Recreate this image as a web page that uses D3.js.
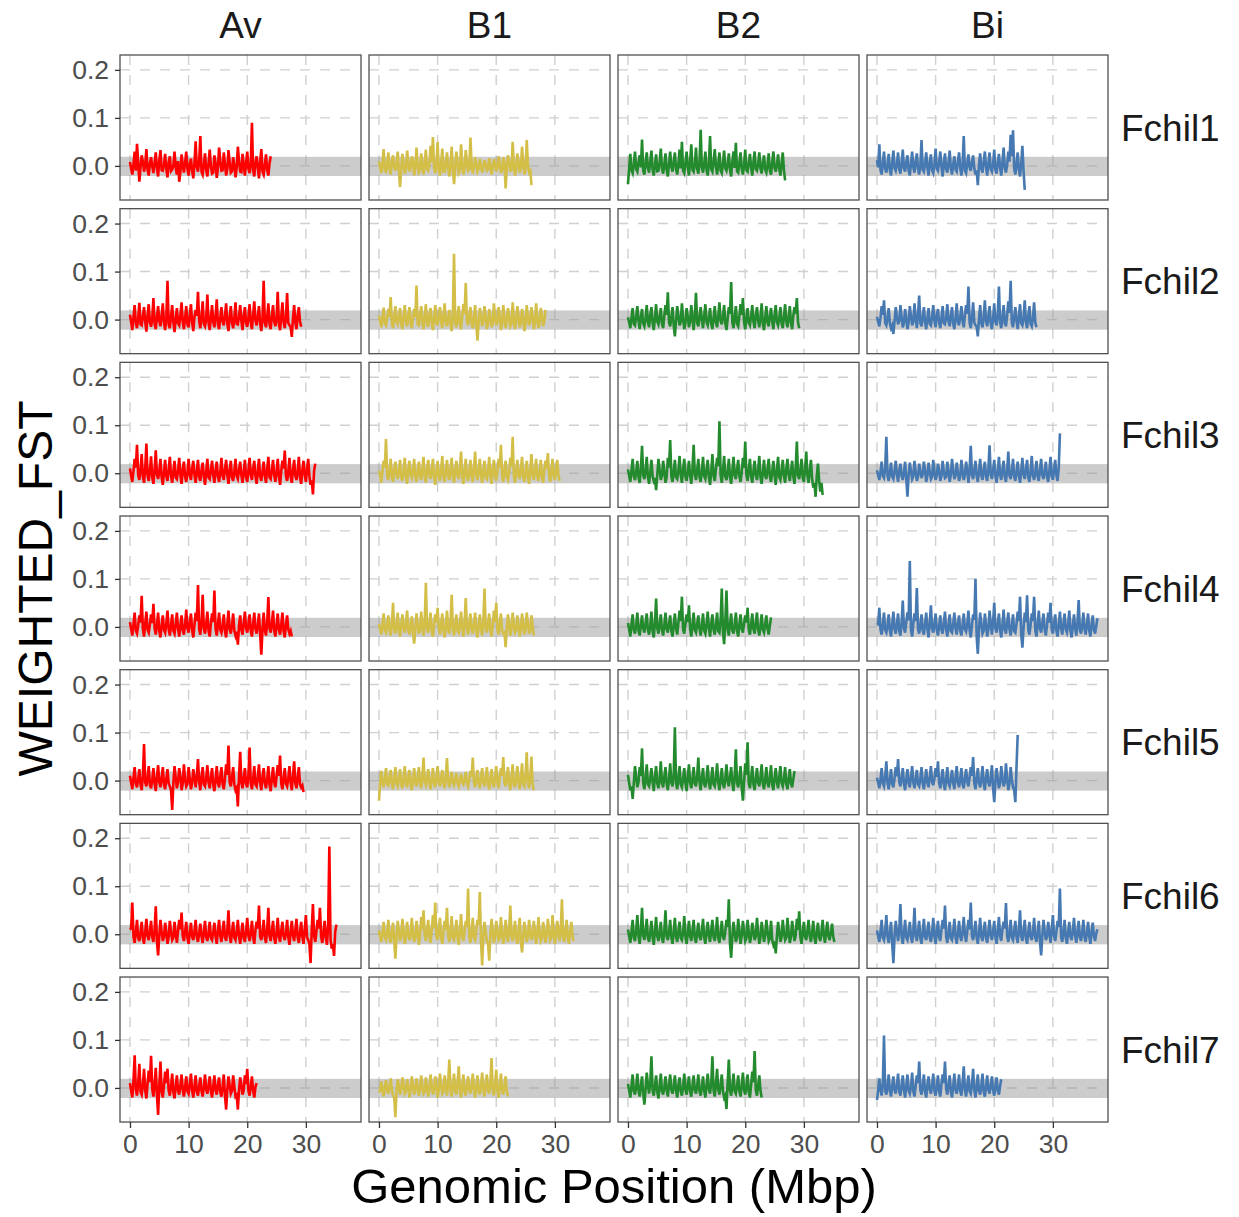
<!DOCTYPE html>
<html>
<head>
<meta charset="utf-8">
<script src="https://cdn.jsdelivr.net/npm/d3@7"></script>
<style>
  body { margin: 0; background: #fff; }
  text { font-family: "Liberation Sans", Arial, sans-serif; }
</style>
</head>
<body>
<div id="chart"></div>
<script>
//
// Data
//
var populations = ["Av", "B1", "B2", "Bi"];
var chromosomes = ["Fchil1", "Fchil2", "Fchil3", "Fchil4", "Fchil5", "Fchil6", "Fchil7"];
var popColors = ["#FF0000", "#D3BE47", "#238B2D", "#4679B2"];
var xTicks = [0, 10, 20, 30];
var yTicks = [0, 0.1, 0.2];
var xTickLabels = ["0", "10", "20", "30"];
var yTickLabels = ["0.0", "0.1", "0.2"];
var windowStep = 0.2;   // Mbp between windows
var bandLow = -0.021, bandHigh = 0.019;

// weighted FST per window (x 1000)
var Av_Fchil1 = [8,-6,-18,4,30,-10,46,7,-33,-3,22,9,-12,2,35,-8,-20,5,18,-1,-15,6,28,-5,-22,11,33,-9,-10,3,25,-7,-24,8,20,-11,-8,1,30,-4,-18,10,-33,-13,24,2,-14,6,30,-6,-20,4,15,-10,-26,7,51,-3,-12,9,62,-12,-18,2,26,-8,-22,5,34,-1,-16,-14,22,6,-25,-5,38,11,-10,-9,28,3,-20,-7,33,8,-14,-11,18,1,-24,-4,40,10,-12,-13,25,2,-20,6,30,-6,-15,4,90,-10,-22,7,20,-3,-26,9,35,-12,-18,2,24,-8,-20,5,20];
var B1_Fchil1 = [10,-4,-15,6,35,-9,-12,3,28,-7,-18,8,22,-2,-10,5,30,-11,-44,-6,25,2,-16,-8,32,7,-12,-3,20,9,-20,-5,38,4,-14,-10,26,1,-18,6,34,-7,-10,3,42,8,60,-4,-15,2,50,-9,-20,5,36,-12,-12,7,28,-6,-22,3,40,-8,-38,-2,30,6,-15,-10,45,4,-18,-5,33,8,-10,-7,59,2,-16,-4,18,3,-12,-6,15,1,-14,-3,12,4,-10,-8,16,2,-18,-5,14,5,-12,-2,20,3,-15,-7,18,6,-47,-4,22,8,-10,-9,50,4,-20,-6,26,7,-14,-3,40,5,-18,-8,54,2,-12,-6,-40];
var B2_Fchil1 = [-38,-5,25,-9,-15,4,30,-7,-12,8,22,-3,55,-10,-18,6,28,-4,-14,9,32,-8,-20,2,24,-11,-10,7,36,-6,-16,3,26,-9,-22,5,30,-2,-12,8,28,-7,-18,4,34,-5,50,-10,-15,6,30,-3,-20,9,45,-8,-12,2,38,-6,-16,7,75,-4,-14,3,30,-9,-20,5,62,-7,-12,8,35,-2,-18,4,28,-10,-15,6,32,-5,-10,3,26,-8,-22,9,30,-4,48,-11,-14,7,28,-6,-18,2,34,-9,-12,5,25,-3,-20,8,30,-7,-10,4,28,-5,-16,6,22,-8,-14,3,26,-10,-18,7,30,-4,-12,2,24,-6,-20,5,28,-9,-30];
var Bi_Fchil1 = [12,-3,45,-8,-18,5,30,-6,-14,2,25,-9,-20,7,32,-4,-10,3,28,-7,-16,6,34,-5,-12,8,22,-10,-20,4,30,-3,-14,9,26,-6,-18,2,54,-8,-12,5,28,-4,-20,7,24,-9,-15,3,36,-6,-10,8,30,-2,-22,4,26,-7,-14,6,32,-5,-18,3,20,-8,-12,9,28,-4,-20,2,62,-10,-15,6,24,-3,-10,7,22,-5,-18,-9,-40,4,26,-6,-14,8,30,-2,-20,5,28,-7,-12,3,34,-9,-16,6,25,-4,-20,8,38,-5,-14,2,30,9,65,20,74,-6,-18,4,28,-8,-22,5,42,-10,-50];

var Av_Fchil2 = [10,-5,-22,6,30,-8,-18,3,35,-10,-12,7,26,-4,-25,9,32,-6,-15,2,45,-9,-20,5,28,-3,-14,8,34,-7,-22,4,81,-11,-18,6,30,-5,-26,2,24,-8,-12,9,36,-4,-20,3,28,-10,-16,7,32,-6,-24,5,20,8,58,-3,-18,6,38,-9,-14,2,52,-7,-22,4,30,-5,-16,8,42,-10,-20,3,26,-4,-12,7,34,-8,-24,5,28,-6,-18,2,36,-9,-10,6,30,-3,-22,8,26,-7,-15,4,32,-5,-20,9,38,-2,-12,6,28,-8,-24,3,81,-6,-16,5,34,-10,-20,7,30,-4,-14,2,58,-9,-22,6,36,-5,-18,4,55,-7,-12,-15,-36,3,30,-6,-20,8,26,-4,-15];
var B1_Fchil2 = [8,-4,-16,5,25,-8,-12,3,22,6,47,-7,-18,2,28,-5,-10,7,24,-9,-20,4,30,-3,-14,8,26,-6,-18,2,22,5,71,-10,-12,6,28,-4,-20,3,32,-7,-15,9,24,-5,-22,2,30,-8,-10,6,26,-3,-18,7,34,-6,-14,4,20,-9,-24,10,137,-5,-16,3,28,-7,-20,6,32,12,76,-4,-12,8,26,-6,-18,2,30,-10,-44,-5,24,7,-14,-3,28,5,-20,-8,22,4,-16,-6,34,2,-12,-4,26,8,-22,-7,30,3,-18,-5,24,6,-14,-9,36,2,-20,-3,28,7,-16,-6,22,4,-24,-8,30,5,-12,-2,26,6,-20,-7,34,3,-18,-5,24,8,-14,-4,20];
var B2_Fchil2 = [5,-6,-18,4,24,-9,-12,7,28,-3,-20,5,22,-8,-14,2,30,-5,-16,9,26,-7,-22,3,32,-4,-10,6,24,-9,-18,8,30,10,57,-6,-14,4,26,-12,-35,-3,28,7,-12,-5,34,2,-20,-8,24,6,-16,-4,30,3,-22,9,56,-7,-14,5,26,-2,-18,8,32,-6,-12,4,24,-9,-20,3,28,-5,-16,7,36,-3,-10,6,30,-8,-22,2,26,12,78,-6,-18,4,28,-9,-14,7,32,10,45,-5,-20,3,24,-7,-12,6,30,-4,-18,8,26,-2,-16,5,34,-9,-22,3,28,-6,-14,7,24,-4,-20,9,30,-5,-12,2,26,-8,-18,6,32,-3,-16,4,28,-7,-20,8,26,12,45,-5,-18];
var Bi_Fchil2 = [6,-5,-14,4,28,10,40,-7,-12,3,24,-8,-18,-12,-30,-4,26,6,-10,-3,30,5,-16,-8,22,2,-20,-6,28,7,-12,-4,34,3,-18,9,50,-7,-14,4,26,-5,-20,2,24,-9,-12,6,30,-3,-16,8,22,-6,-18,3,28,-8,-10,5,32,-4,-14,7,26,-9,-20,2,34,-5,-12,6,28,-3,-16,8,30,12,69,-7,-18,4,36,-6,-12,-15,-35,3,30,-8,-16,5,40,-4,-14,7,28,-9,-20,2,34,-5,-12,10,69,-6,-18,4,30,-8,-14,9,38,14,81,-7,-16,5,26,-3,-20,6,32,-8,-12,4,40,-5,-18,7,28,-9,-14,3,36,-6,-16];

var Av_Fchil3 = [10,-6,-18,5,30,12,59,-4,-14,8,40,-7,-20,10,62,-5,-16,6,35,-9,-22,7,48,-3,-12,4,30,-8,-24,2,28,-6,-16,7,34,-5,-20,3,26,-9,-12,6,32,-4,-22,8,24,-7,-18,2,30,-5,-14,9,26,-3,-20,4,28,-8,-16,6,22,-6,-24,3,30,-9,-12,7,26,-4,-20,5,24,-7,-18,2,32,-5,-14,8,28,-3,-22,6,26,-9,-16,4,30,-6,-12,7,24,-4,-20,2,28,-8,-18,5,32,-3,-14,9,26,-6,-22,4,30,-7,-16,3,24,-5,-20,8,34,-9,-12,6,28,-4,-18,2,30,-7,-24,5,26,10,47,-6,-16,3,32,-8,-20,7,28,-5,-14,4,34,-9,-22,6,26,-3,-18,8,30,-6,-24,-15,-44,5,20];
var B1_Fchil3 = [5,-4,-20,6,26,12,71,-5,-14,3,30,-8,-18,7,24,-3,-12,5,28,-9,-16,2,32,-6,-22,8,26,-4,-10,6,30,-7,-18,3,24,-5,-14,9,34,-8,-20,4,28,-3,-12,6,30,-9,-24,2,26,-5,-16,7,36,-6,-18,3,28,-4,-14,8,32,-7,-20,5,26,-3,-12,10,45,-6,-22,4,30,-8,-16,2,28,-5,-18,9,45,-3,-14,6,30,-7,-20,4,26,-9,-12,5,34,-4,-22,8,28,-6,-16,3,30,12,59,-5,-18,7,26,-8,-14,4,32,14,76,-6,-20,3,28,-5,-12,8,34,-7,-18,2,26,-9,-22,6,40,-4,-14,5,30,-6,-16,3,28,-8,-20,7,26,9,42,-5,-18,4,30,-7,-14,6,28,-3,-16];
var B2_Fchil3 = [8,-5,-18,6,30,-7,-14,3,26,-9,-20,10,57,-4,-12,5,34,-8,-22,2,28,-6,-16,-10,-35,-3,30,7,-14,-5,26,4,-20,-8,32,12,69,-6,-18,3,28,-9,-12,5,36,-4,-20,8,30,-7,-16,2,26,-5,-22,9,59,-3,-14,6,30,-8,-18,4,34,-6,-12,7,28,-9,-24,3,40,-5,-16,8,32,15,108,-4,-20,6,36,-7,-14,3,30,-9,-22,5,34,-4,-12,8,28,-6,-18,2,32,11,66,-5,-16,7,30,-8,-20,4,26,-3,-14,6,36,-9,-22,2,28,-5,-12,8,30,-7,-18,3,26,-4,-24,6,34,-8,-14,5,28,-6,-20,9,30,-3,-16,4,26,-7,-22,10,66,-5,-12,6,30,-9,-18,8,45,-4,-20,3,28,-10,-30,-20,-49,-6,20,-15,-38,-20,-45];
var Bi_Fchil3 = [6,-4,-14,3,24,-6,-10,10,76,-5,-16,2,22,-7,-12,4,26,-3,-18,6,20,-5,-14,2,24,-12,-49,-4,22,5,-12,-6,26,3,-16,-8,20,4,-10,-2,24,6,-18,-5,22,3,-12,-7,28,2,-14,-4,20,5,-16,-6,26,3,-10,-8,24,4,-18,-3,30,6,-12,-5,22,2,-16,-7,28,4,-14,-3,24,5,-20,8,57,-4,-12,6,26,-6,-18,3,30,-5,-14,7,24,-8,-16,9,58,-3,-12,5,28,-6,-20,2,34,-4,-14,7,26,-8,-18,6,45,-5,-12,3,30,-7,-16,4,24,-6,-20,5,32,-3,-12,8,28,-9,-18,4,36,-5,-14,2,26,-7,-16,6,30,-4,-12,3,24,-8,-18,5,34,-6,-14,7,28,-5,-16,10,83];

var Av_Fchil4 = [10,-5,-18,6,30,-8,-14,3,24,9,65,-4,-20,7,32,-6,-12,5,26,8,48,-3,-16,4,30,-9,-22,2,24,-6,-12,7,34,-5,-18,3,26,-8,-14,6,30,-4,-20,2,24,-7,-16,5,36,-3,-12,8,28,-6,-22,4,30,12,87,-5,-16,9,67,-3,-14,6,32,-8,-20,7,28,10,76,-4,-18,5,30,-6,-12,3,26,-9,-22,6,34,-5,-14,2,28,-7,-18,-10,-37,4,24,-6,-16,8,32,-3,-12,5,26,-8,-20,7,30,-4,-14,2,28,-15,-58,-5,30,-7,-18,9,62,-4,-12,6,34,-8,-20,3,28,-6,-16,5,30,-9,-22,4,24,-5,-14,-8,-20];
var B1_Fchil4 = [6,-4,-16,5,28,-7,-12,3,24,-6,-18,8,50,-5,-14,2,30,-8,-20,4,26,-3,-12,7,34,-6,-16,2,22,-10,-35,-4,28,5,-14,-7,32,3,-18,10,92,-5,-12,6,30,-8,-20,4,26,9,40,-3,-16,6,28,-7,-22,2,34,-5,-14,11,67,-4,-18,3,26,-8,-12,6,32,-5,-20,9,60,-3,-16,7,28,-6,-14,4,30,-9,-22,2,26,-5,-18,12,80,-4,-12,6,28,-7,-20,3,34,10,50,-6,-16,5,28,-8,-14,-12,-42,-3,26,6,-18,-5,30,4,-12,-7,24,3,-20,-6,28,5,-16,-4,30,7,-14,-8,24,3,-18];
var B2_Fchil4 = [8,-5,-20,6,26,-7,-14,3,30,-8,-18,5,24,-4,-12,7,28,-6,-16,2,32,-9,-22,8,59,-3,-14,5,26,-7,-18,4,30,-5,-12,6,24,-8,-20,3,28,-4,-16,9,34,12,63,-6,-14,7,26,10,45,-5,-20,3,30,-7,-12,6,24,-4,-18,2,28,-8,-14,5,32,-3,-20,7,26,-6,-16,4,30,-9,-12,14,80,-10,-36,12,76,-5,-18,6,28,-7,-14,3,30,-8,-20,5,26,-4,-12,7,24,9,40,-6,-16,4,28,-5,-14,8,30,-7,-18,2,26,-6,-12,5,24,-4,-16,3,20];
var Bi_Fchil4 = [8,6,40,-5,-16,4,30,-7,-12,3,26,-8,-20,6,32,-4,-14,5,28,-9,-18,8,55,-3,-12,10,30,14,137,-6,-20,7,28,12,81,-5,-14,3,26,-8,-16,6,30,-4,-22,9,45,-3,-12,5,28,-7,-18,2,24,-6,-14,8,32,-5,-20,3,26,-9,-12,6,30,-4,-16,7,24,-8,-18,2,28,-5,-10,6,34,-7,-22,4,26,15,100,-20,-56,-4,30,6,-14,-8,28,3,-20,-5,34,7,-16,9,50,-4,-12,5,28,-7,-22,3,36,-6,-14,8,30,-5,-18,2,26,-9,-12,7,32,12,63,-15,-43,-3,30,10,66,-6,-16,4,28,12,63,-7,-20,5,34,-4,-12,8,28,-6,-18,3,30,9,50,-5,-14,6,26,-8,-20,4,32,-3,-16,7,28,-6,-12,5,34,-9,-22,2,26,-4,-18,10,56,-7,-14,3,30,-5,-16,6,28,-8,-20,4,24,-6,-14,2,18];

var Av_Fchil5 = [10,-5,-18,6,28,-7,-14,3,24,-8,-20,10,76,-4,-12,5,30,-9,-16,2,26,-6,-22,7,32,-3,-14,5,28,-8,-18,4,24,-6,-12,-20,-61,-5,30,6,-16,-3,26,8,-20,-6,34,2,-12,-7,28,4,-18,-5,24,6,-14,9,45,-3,-20,7,28,-8,-12,5,32,-4,-16,6,26,-9,-22,3,30,-5,-14,8,28,-7,-18,4,34,12,73,-3,-12,6,28,-8,-20,-15,-54,10,60,-4,-16,5,26,-7,-14,11,69,-5,-18,3,30,-8,-12,6,34,-4,-20,7,26,-6,-16,2,30,-9,-22,5,28,-3,-14,8,32,10,52,-6,-18,4,26,-7,-12,5,30,-4,-20,9,40,-5,-16,6,28,-8,-14,-10,-24];
var B1_Fchil5 = [-42,-6,20,-4,-14,3,26,-7,-10,5,22,-5,-18,2,28,-6,-12,4,24,-8,-16,3,30,-5,-14,6,22,-7,-20,2,26,-4,-12,5,28,-6,-16,8,48,-3,-10,4,24,-7,-18,2,26,-5,-14,6,30,-3,-12,4,22,-6,-16,9,47,-4,-14,2,18,-5,-10,3,16,-6,-12,2,14,-4,-8,3,18,-5,-12,2,20,8,48,-4,-14,3,22,-6,-16,5,26,-3,-12,4,28,-7,-18,2,24,-5,-14,6,30,-4,-16,7,26,10,49,-5,-12,3,28,-6,-20,4,34,-7,-14,5,30,-3,-18,6,36,-8,-12,10,59,-4,-16,8,50,-6,-20];
var B2_Fchil5 = [12,-5,-20,-12,-38,-4,30,6,-14,-3,28,10,67,-6,-18,4,34,-8,-12,5,26,-3,-22,7,30,-6,-16,2,40,-5,-14,8,28,-7,-20,3,36,-4,-12,12,111,-6,-18,5,30,-8,-14,3,26,-5,-22,7,34,-4,-16,2,28,-6,-12,9,48,-3,-20,6,26,-7,-14,4,32,-5,-18,3,28,-8,-12,6,36,-4,-20,2,26,-7,-16,5,34,-3,-12,8,28,-6,-22,10,65,-5,-14,4,30,-15,-42,-3,36,12,80,-6,-16,5,30,-8,-20,3,26,-4,-12,7,34,-6,-18,2,28,-5,-14,6,32,-9,-20,4,26,-3,-16,7,30,-5,-12,2,28,-7,-18,4,24,-6,-14,3,20];
var Bi_Fchil5 = [6,-4,-16,3,26,-6,-12,8,40,-5,-18,2,24,-7,-14,5,28,9,45,-3,-12,4,26,-6,-20,2,24,-5,-14,7,30,-4,-16,3,22,-8,-12,5,28,-6,-18,2,24,-4,-14,6,30,-3,-10,5,26,8,40,-5,-16,3,24,-7,-20,4,28,-6,-12,2,22,-5,-18,6,30,-4,-14,3,26,-8,-16,5,24,-3,-12,7,28,10,49,-6,-18,4,26,-5,-14,3,30,-7,-20,6,24,-4,-12,5,32,-15,-45,-3,26,4,-16,-6,30,5,-12,-4,36,3,-20,-6,28,2,-14,-20,-45,30,95];

var Av_Fchil6 = [10,12,66,-5,-18,4,30,-7,-14,3,26,-8,-20,5,32,-4,-12,6,28,-6,-16,9,58,-15,-44,-3,30,5,-14,-6,24,3,-20,-5,28,4,-12,-7,26,2,-18,6,30,10,45,-4,-14,5,26,-8,-20,3,24,-5,-12,6,30,-7,-16,2,22,-4,-18,5,28,-6,-14,3,26,-8,-12,4,24,-5,-20,7,30,-3,-16,5,28,-6,-14,9,50,-4,-18,3,26,-7,-12,5,30,-5,-20,2,24,-8,-16,6,34,-3,-14,4,28,-6,-20,8,26,12,60,-5,-12,3,30,-7,-18,10,55,-4,-14,6,28,-8,-20,3,34,-5,-16,7,26,-4,-12,2,30,-6,-22,5,28,-3,-14,8,32,-7,-18,4,26,-5,-20,9,40,-6,-12,-20,-60,10,63,-4,-16,6,30,12,55,-5,-18,3,28,-8,-22,20,183,-10,-30,-20,-45,5,20];
var B1_Fchil6 = [8,-5,-16,4,26,-6,-12,3,30,-8,-18,5,24,-15,-51,-4,28,6,-14,-3,32,5,-20,-7,26,4,-12,-5,34,3,-16,-8,28,6,-22,-4,36,10,50,-3,-14,5,30,-6,-18,8,40,12,66,-5,-12,4,34,-7,-20,3,28,10,55,-4,-16,6,38,-8,-12,2,30,-5,-22,7,42,-3,-14,5,28,15,95,-6,-18,4,34,-7,-12,10,30,20,88,-15,-65,-4,26,5,-14,-20,-55,-3,32,6,-18,-5,28,4,-12,-7,36,3,-20,-6,30,5,-16,10,60,-4,-14,3,28,-8,-20,6,34,-15,-38,-4,26,5,-16,-7,30,3,-12,-5,28,6,-20,-4,36,2,-14,-8,26,5,-18,-3,32,7,-12,-6,40,3,-20,-5,28,10,-14,8,73,-6,-16,4,30,-7,-20,5,26,-4,-14];
var B2_Fchil6 = [10,-4,-18,5,30,-7,-14,8,40,-5,-20,9,55,-3,-12,6,32,-8,-16,4,28,-6,-22,7,36,-4,-14,3,26,-9,-18,8,50,-5,-12,4,30,-7,-20,3,34,-5,-16,6,26,-8,-12,4,38,-6,-20,2,28,-4,-14,7,30,-9,-18,3,24,-5,-12,6,32,-7,-20,4,26,-3,-16,8,30,-6,-14,5,36,-8,-18,3,28,-4,-12,6,30,15,73,-20,-49,-5,26,4,-16,-7,32,6,-20,-3,28,5,-14,-8,30,4,-18,-6,24,7,-12,-4,34,3,-20,-7,26,5,-16,-3,30,6,-14,-8,28,-12,-22,-15,-40,-4,26,5,-16,-6,30,3,-12,-7,34,4,-18,-5,28,6,-14,-3,32,9,48,-6,-20,4,26,-5,-12,7,30,-4,-16,3,28,-8,-20,5,24,-6,-14,4,30,-3,-18,6,26,-5,-12,3,22,-4,-16];
var Bi_Fchil6 = [8,-4,-16,5,30,-7,-12,6,40,-5,-18,3,26,-20,-60,-4,28,6,-14,9,63,-5,-20,3,30,-7,-12,4,26,-6,-18,8,55,-4,-14,5,28,-8,-20,3,32,-5,-12,6,26,-7,-16,2,34,-4,-20,5,28,-6,-14,9,30,12,60,-5,-18,3,26,-8,-12,4,32,-6,-20,2,28,-5,-14,7,36,-3,-16,6,30,10,66,-4,-12,5,28,-7,-20,3,34,-5,-14,6,26,-8,-18,4,30,-3,-12,5,28,-6,-20,7,36,-4,-14,10,26,12,65,-5,-16,3,30,-7,-12,5,28,-6,-18,9,50,-4,-14,6,30,-8,-20,3,26,-5,-12,4,34,-7,-16,2,28,-15,-44,-3,30,6,-12,-5,26,4,-18,8,40,-4,-14,5,28,15,95,-6,-16,3,30,-8,-20,4,26,-5,-12,7,34,-3,-18,5,28,-6,-14,4,30,-7,-16,3,26,-5,-20,6,24,-4,-14,2,10];

var Av_Fchil7 = [10,-6,-20,15,68,-4,-16,10,50,-8,-14,6,40,-5,-22,9,36,12,67,-3,-18,8,42,-15,-56,5,55,-7,-20,6,34,10,40,-5,-16,4,30,-8,-22,3,26,-6,-14,5,28,-4,-18,2,24,-7,-12,6,30,-5,-20,3,26,-8,-16,4,22,-6,-18,2,28,-4,-12,5,24,-7,-20,3,26,-5,-14,6,22,-8,-18,2,28,-15,-45,-4,24,5,-12,-6,26,3,-18,-15,-45,-4,22,6,-14,-5,26,8,40,-6,-16,3,24,-5,-20,2,10];
var B1_Fchil7 = [-10,-3,14,-6,-18,2,16,-5,-12,3,20,-4,-16,-20,-61,-6,18,4,-14,-3,22,5,-12,-7,18,2,-20,-4,24,6,-14,-5,20,3,-16,-6,26,4,-12,-8,22,2,-18,-3,28,5,-14,-6,24,3,-20,-4,30,6,-12,-7,26,4,-16,12,59,-5,-18,3,30,-6,-14,10,45,-4,-20,5,28,-7,-16,3,24,-5,-12,6,30,-4,-20,2,26,-6,-14,5,32,-3,-18,7,28,-5,-12,12,62,-4,-16,8,38,-6,-20,3,30,-5,-14,4,24,-6,-18];
var B2_Fchil7 = [8,-5,-20,4,28,-7,-14,3,30,-6,-18,5,24,-12,-35,-4,32,6,-12,10,66,-5,-16,3,26,-8,-22,4,30,-6,-14,2,24,-5,-18,7,28,-4,-12,3,26,-6,-20,5,22,-7,-16,2,30,-4,-14,6,24,-8,-18,3,26,-5,-12,4,28,-7,-16,2,24,-6,-20,5,30,-3,-12,10,66,-5,-18,8,40,-4,-14,6,28,-7,-20,-15,-44,10,59,-5,-16,4,30,-7,-12,3,26,-6,-18,5,32,-4,-14,2,28,-8,-20,6,34,12,77,-5,-16,4,26,-6,-20];
var Bi_Fchil7 = [-25,-5,20,-4,-16,10,109,-6,-14,3,28,-7,-18,4,24,-5,-12,6,30,-8,-16,3,26,-4,-20,5,28,-6,-12,2,32,-7,-18,4,26,10,55,-5,-14,3,28,-8,-20,6,24,-4,-12,5,30,-6,-16,2,26,-7,-18,8,28,10,55,-3,-14,6,26,-8,-20,4,30,-5,-12,3,28,-6,-16,9,45,-4,-18,5,26,-7,-12,8,40,-5,-20,3,28,-6,-14,4,30,-8,-18,2,26,-4,-12,6,24,-5,-16,3,22,-6,-14,4,18];

var fstRows = [
    [Av_Fchil1, B1_Fchil1, B2_Fchil1, Bi_Fchil1],
    [Av_Fchil2, B1_Fchil2, B2_Fchil2, Bi_Fchil2],
    [Av_Fchil3, B1_Fchil3, B2_Fchil3, Bi_Fchil3],
    [Av_Fchil4, B1_Fchil4, B2_Fchil4, Bi_Fchil4],
    [Av_Fchil5, B1_Fchil5, B2_Fchil5, Bi_Fchil5],
    [Av_Fchil6, B1_Fchil6, B2_Fchil6, Bi_Fchil6],
    [Av_Fchil7, B1_Fchil7, B2_Fchil7, Bi_Fchil7]
];

//
// Layout
//
var width = 1239, height = 1217,
    panelLeft = 120, panelTop = 55,
    panelW = 241, panelH = 145,
    colStep = 249, rowStep = 153.67;

var x = d3.scaleLinear().domain([-1.7, 39.4]).range([0, panelW]);
var y = d3.scaleLinear().domain([-0.071, 0.231]).range([panelH, 0]);

var svg = d3.select("#chart").append("svg")
    .attr("width", width)
    .attr("height", height)
    .style("background", "#fff");

var line = d3.line()
    .x(function(d, i) { return x(i * windowStep); })
    .y(function(d) { return y(d / 1000); });

chromosomes.forEach(function(chrom, r) {
    populations.forEach(function(pop, c) {
        var g = svg.append("g")
            .attr("transform", "translate(" + (panelLeft + c * colStep) + "," + (panelTop + r * rowStep) + ")");

        g.append("rect")
            .attr("width", panelW)
            .attr("height", panelH)
            .attr("fill", "#fff");

        // dashed grid
        g.selectAll(".vgrid").data(xTicks).enter().append("line")
            .attr("x1", function(d) { return x(d); })
            .attr("x2", function(d) { return x(d); })
            .attr("y1", 0).attr("y2", panelH)
            .attr("stroke", "#d0d0d0")
            .attr("stroke-width", 1.4)
            .attr("stroke-dasharray", "10,10");
        g.selectAll(".hgrid").data(yTicks).enter().append("line")
            .attr("y1", function(d) { return y(d); })
            .attr("y2", function(d) { return y(d); })
            .attr("x1", 0).attr("x2", panelW)
            .attr("stroke", "#d0d0d0")
            .attr("stroke-width", 1.4)
            .attr("stroke-dasharray", "10,10");

        // grey band round zero
        g.append("rect")
            .attr("x", 0)
            .attr("width", panelW)
            .attr("y", y(bandHigh))
            .attr("height", y(bandLow) - y(bandHigh))
            .attr("fill", "#9a9a9a")
            .attr("opacity", 0.5);

        g.append("path")
            .datum(fstRows[r][c])
            .attr("d", line)
            .attr("fill", "none")
            .attr("stroke", popColors[c])
            .attr("stroke-width", 2.6)
            .attr("stroke-linejoin", "miter");

        g.append("rect")
            .attr("width", panelW)
            .attr("height", panelH)
            .attr("fill", "none")
            .attr("stroke", "#505050")
            .attr("stroke-width", 1.3);

        // y axis on first column
        if (c == 0) {
            var ya = g.append("g").call(d3.axisLeft(y).tickValues(yTicks)
                .tickFormat(function(d, i) { return yTickLabels[i]; })
                .tickSize(5).tickPadding(6));
            ya.select(".domain").remove();
            ya.selectAll("line").attr("stroke", "#333").attr("stroke-width", 1.3);
            ya.selectAll("text").attr("fill", "#4d4d4d")
                .style("font-size", "26.5px")
                .style("font-family", "'Liberation Sans', Arial, sans-serif");
        }
        // x axis on last row
        if (r == chromosomes.length - 1) {
            var xa = g.append("g")
                .attr("transform", "translate(0," + panelH + ")")
                .call(d3.axisBottom(x).tickValues(xTicks)
                    .tickFormat(function(d, i) { return xTickLabels[i]; })
                    .tickSize(6).tickPadding(6));
            xa.select(".domain").remove();
            xa.selectAll("line").attr("stroke", "#333").attr("stroke-width", 1.3);
            xa.selectAll("text").attr("fill", "#4d4d4d")
                .style("font-size", "26.5px")
                .style("font-family", "'Liberation Sans', Arial, sans-serif");
        }
        // column strip
        if (r == 0) {
            g.append("text")
                .attr("x", panelW / 2)
                .attr("y", -17)
                .attr("text-anchor", "middle")
                .attr("fill", "#1a1a1a")
                .style("font-size", "37px")
                .text(pop);
        }
        // row strip
        if (c == populations.length - 1) {
            g.append("text")
                .attr("x", panelW + 13)
                .attr("y", panelH / 2)
                .attr("dy", "0.36em")
                .attr("fill", "#1a1a1a")
                .style("font-size", "37px")
                .text(chrom);
        }
    });
});

// axis titles
svg.append("text")
    .attr("x", panelLeft + (3 * colStep + panelW) / 2)
    .attr("y", 1203)
    .attr("text-anchor", "middle")
    .attr("fill", "#000")
    .style("font-size", "49px")
    .text("Genomic Position (Mbp)");

svg.append("text")
    .attr("transform", "translate(52," + (panelTop + (6 * rowStep + panelH) / 2) + ") rotate(-90)")
    .attr("text-anchor", "middle")
    .attr("fill", "#000")
    .style("font-size", "48px")
    .text("WEIGHTED_FST");
</script>
</body>
</html>
